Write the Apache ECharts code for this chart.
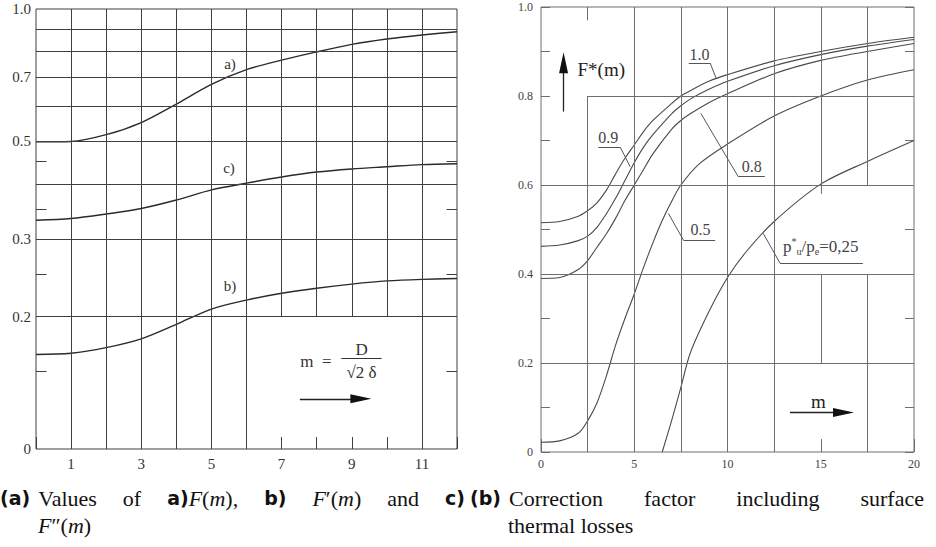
<!DOCTYPE html>
<html>
<head>
<meta charset="utf-8">
<script src="https://cdn.jsdelivr.net/npm/echarts@6/dist/echarts.min.js"></script>
<style>
  html, body { margin: 0; padding: 0; background: #fff; }
  #chart { width: 936px; height: 547px; }
</style>
</head>
<body>
<div id="chart"></div>
<script>
// ---- (a) left panel: F(m), F'(m), F''(m) on a log-scaled axis ----
const mA = [0, 1, 2, 3, 4, 5, 6, 7, 8, 9, 10, 11, 12];
const fA = [0.499, 0.500, 0.518, 0.552, 0.608, 0.674, 0.728, 0.765, 0.799, 0.831, 0.855, 0.873, 0.888];
const fB = [0.164, 0.165, 0.170, 0.178, 0.192, 0.208, 0.218, 0.226, 0.232, 0.237, 0.241, 0.243, 0.244];
const fC = [0.331, 0.334, 0.342, 0.352, 0.368, 0.388, 0.402, 0.415, 0.426, 0.433, 0.438, 0.443, 0.445];
const leftXLabels = [1, 3, 5, 7, 9, 11];
const leftYTicks = [0.1, 0.2, 0.3, 0.5, 0.7, 1.0];
const leftYLabels = ['0', '0.2', '0.3', '0.5', '0.7', '1.0'];

// ---- (b) right panel: F*(m) for p*u/pe = 1.0, 0.9, 0.8, 0.5, 0.25 ----
const mR = [0, 1, 2, 2.5, 3, 3.5, 4, 4.5, 5, 5.5, 6, 7, 7.5, 8, 9, 10, 12.5, 15, 17.5, 20];
const f10 = [0.515, 0.518, 0.530, 0.542, 0.560, 0.588, 0.625, 0.660, 0.690, 0.720, 0.745, 0.783, 0.800, 0.812, 0.833, 0.848, 0.879, 0.900, 0.918, 0.932];
const f09 = [0.462, 0.465, 0.475, 0.485, 0.505, 0.535, 0.570, 0.610, 0.650, 0.685, 0.713, 0.760, 0.778, 0.793, 0.815, 0.833, 0.868, 0.893, 0.912, 0.927];
const f08 = [0.390, 0.392, 0.410, 0.430, 0.460, 0.490, 0.525, 0.565, 0.600, 0.635, 0.670, 0.725, 0.745, 0.760, 0.785, 0.805, 0.850, 0.880, 0.900, 0.918];
const m05 = [0, 1, 2, 2.5, 3, 3.5, 4, 4.5, 5, 5.5, 6, 6.5, 7, 7.5, 8.5, 10, 12.5, 15, 17.5, 20];
const f05 = [0.022, 0.025, 0.042, 0.070, 0.110, 0.170, 0.240, 0.300, 0.355, 0.415, 0.470, 0.520, 0.563, 0.600, 0.648, 0.692, 0.755, 0.800, 0.836, 0.859];
const m025 = [6.5, 7, 7.5, 8, 9, 10, 11, 12.5, 15, 17.5, 20];
const f025 = [0, 0.070, 0.145, 0.222, 0.315, 0.392, 0.450, 0.518, 0.602, 0.653, 0.700];

// grid line positions (drawing aids, not data)
const leftGridH = [0.2, 0.3, 0.4, 0.5, 0.6, 0.7, 0.8, 0.9];
const leftGridV = [1, 2, 3, 4, 5, 6, 11];
const leftGridVUpper = [7, 8, 9, 10];
const leftEdgeTicks = [0.15, 0.25, 0.35, 0.45];
const rightGridH = [0.2, 0.4, 0.6];
const rightGridV = [5, 7.5, 10, 12.5];

const serif = "'Liberation Serif', 'Times New Roman', serif";
const gridL = '#3f3f3f';
const gridR = '#6e6e6e';

const zip = (xs, ys) => xs.map((x, i) => [x, ys[i]]);
const seg = (x1, y1, x2, y2, extra) => [Object.assign({ coord: [x1, y1] }, extra || {}), { coord: [x2, y2] }];
const txt = (x, y, text, size, extra) => ({
  coord: [x, y],
  label: Object.assign({ show: true, position: 'inside', formatter: text, fontFamily: serif, fontSize: size, color: '#333' }, extra || {})
});
// filled arrow head drawn as a marker centred on (x, y)
const head = (x, y, rotate) => ({
  coord: [x, y], symbol: 'triangle', symbolSize: [9, 21], symbolRotate: rotate,
  itemStyle: { color: '#111' }, label: { show: false }
});

const chart = echarts.init(document.getElementById('chart'), null, { renderer: 'svg' });

const lineBase = { type: 'line', symbol: 'none', smooth: 0.3, silent: true, z: 3 };
const arrowLine = { lineStyle: { color: '#222', width: 1.3 } };

// left grid lines + labels, hung on curve a)
const leftMarks = [];
leftGridH.forEach(v => leftMarks.push({ yAxis: v }));
leftGridV.forEach(v => leftMarks.push({ xAxis: v }));
leftGridVUpper.forEach(v => leftMarks.push(seg(v, 0.2, v, 1)));
leftEdgeTicks.forEach(v => { leftMarks.push(seg(0, v, 0.3, v)); leftMarks.push(seg(11.7, v, 12, v)); });
leftYTicks.forEach((v, i) => leftMarks.push({
  yAxis: v, lineStyle: { color: 'rgba(0,0,0,0)' },
  label: { show: true, position: 'start', distance: 5, formatter: leftYLabels[i], fontFamily: serif, fontSize: 15, color: '#333' }
}));
leftMarks.push(seg(8.70, 0.161, 9.85, 0.161, { lineStyle: { color: '#333', width: 1 } }));
leftMarks.push(seg(7.52, 0.130, 9.3, 0.130, arrowLine));

// right grid lines + leaders
const rightMarks = [];
rightGridH.forEach(v => rightMarks.push({ yAxis: v }));
rightGridV.forEach(v => rightMarks.push({ xAxis: v }));
rightMarks.push(seg(2.5, 0.8, 20, 0.8));
rightMarks.push(seg(2.5, 0, 2.5, 0.8));
rightMarks.push(seg(2.5, 0.97, 2.5, 1));
rightMarks.push(seg(15, 0.58, 15, 1));
rightMarks.push(seg(15, 0.2, 15, 0.4));
rightMarks.push(seg(17.5, 0.6, 17.5, 1));
rightMarks.push(seg(17.5, 0, 17.5, 0.4));
const lead = { lineStyle: { color: '#555', width: 1 } };
rightMarks.push(seg(7.92, 0.874, 9.07, 0.874, lead), seg(9.07, 0.874, 9.39, 0.840, lead));
rightMarks.push(seg(3.07, 0.685, 4.25, 0.685, lead), seg(4.25, 0.685, 4.78, 0.641, lead));
rightMarks.push(seg(10.57, 0.619, 12.0, 0.619, lead), seg(10.57, 0.619, 8.57, 0.761, lead));
rightMarks.push(seg(7.64, 0.476, 9.34, 0.476, lead), seg(7.64, 0.476, 6.83, 0.536, lead));
rightMarks.push(seg(12.82, 0.424, 17.26, 0.424, lead), seg(12.82, 0.424, 11.92, 0.491, lead));
rightMarks.push(seg(1.21, 0.765, 1.21, 0.87, arrowLine));
rightMarks.push(seg(13.35, 0.0887, 16.3, 0.0887, arrowLine));

const markPointBase = { silent: true, symbol: 'rect', symbolSize: 1, itemStyle: { color: 'rgba(0,0,0,0)' }, animation: false };

const capBase = { fontFamily: serif, fontWeight: 'normal', fontSize: 22, color: '#111', lineHeight: 26 };
const capRich = {
  b: { fontFamily: "'DejaVu Sans', sans-serif", fontWeight: 'bold', fontSize: 19, color: '#111', lineHeight: 26 },
  r: capBase,
  i: Object.assign({}, capBase, { fontStyle: 'italic' }),
  n: Object.assign({}, capBase, { width: 8 }),
  s: Object.assign({}, capBase, { width: 26 }),
  t: Object.assign({}, capBase, { width: 41 })
};
const capStyle = { rich: capRich, fontWeight: 'normal', fontFamily: serif, fontSize: 22, color: '#111' };

const option = {
  animation: false,
  backgroundColor: '#fff',
  title: [
    { left: 0, top: 485, padding: 0, text: '{b|(a)}{n| }{r|Values}{s| }{r|of}{s| }{b|a)}{i|F}{r|(}{i|m}{r|),}{s| }{b|b)}{s| }{i|F}{r|′(}{i|m}{r|)}{s| }{r|and}{s| }{b|c)}', textStyle: capStyle },
    { left: 38, top: 512, padding: 0, text: '{i|F}{r|″(}{i|m}{r|)}', textStyle: capStyle },
    { left: 470, top: 485, padding: 0, text: '{b|(b)}{n| }{r|Correction}{t| }{r|factor}{t| }{r|including}{t| }{r|surface}', textStyle: capStyle },
    { left: 508, top: 512, padding: 0, text: '{r|thermal losses}', textStyle: capStyle }
  ],
  grid: [
    { left: 36, top: 9, width: 421, height: 440, show: true, borderColor: gridL, borderWidth: 1, backgroundColor: 'rgba(0,0,0,0)' },
    { left: 541, top: 7, width: 373, height: 445, show: true, borderColor: gridR, borderWidth: 1, backgroundColor: 'rgba(0,0,0,0)' }
  ],
  xAxis: [
    {
      gridIndex: 0, type: 'value', min: 0, max: 12, interval: 1,
      axisLine: { show: false }, splitLine: { show: false },
      axisTick: { show: true, inside: true, length: 12, lineStyle: { color: gridL } },
      axisLabel: { margin: 7, fontFamily: serif, fontSize: 15, color: '#333', formatter: v => leftXLabels.includes(v) ? String(v) : '' }
    },
    {
      gridIndex: 1, type: 'value', min: 0, max: 20, interval: 5,
      axisLine: { show: false }, splitLine: { show: false },
      axisTick: { show: true, inside: true, length: 13, lineStyle: { color: gridR } },
      axisLabel: { margin: 6, fontFamily: serif, fontSize: 12, color: '#444' }
    }
  ],
  yAxis: [
    {
      gridIndex: 0, type: 'log', logBase: 10, min: 0.1, max: 1,
      axisLine: { show: false }, axisTick: { show: false }, axisLabel: { show: false }, splitLine: { show: false }
    },
    {
      gridIndex: 1, type: 'value', min: 0, max: 1, interval: 0.2,
      axisLine: { show: false }, splitLine: { show: false },
      axisTick: { show: true, inside: true, length: 9, lineStyle: { color: gridR } },
      minorTick: { show: true, splitNumber: 2, length: 9, lineStyle: { color: gridR } },
      axisLabel: { margin: 8, fontFamily: serif, fontSize: 12, color: '#444', formatter: v => v === 0 ? '0' : v.toFixed(1) }
    },
    {
      gridIndex: 1, type: 'value', min: 0, max: 1, interval: 0.2, position: 'right',
      axisLine: { show: false }, splitLine: { show: false }, axisLabel: { show: false },
      axisTick: { show: true, inside: true, length: 9, lineStyle: { color: gridR } },
      minorTick: { show: true, splitNumber: 2, length: 9, lineStyle: { color: gridR } }
    }
  ],
  series: [
    Object.assign({}, lineBase, {
      name: 'a)', xAxisIndex: 0, yAxisIndex: 0, data: zip(mA, fA),
      lineStyle: { color: '#2a2a2a', width: 1.4 },
      markLine: { silent: true, animation: false, symbol: ['none', 'none'], label: { show: false }, lineStyle: { color: gridL, width: 1, type: 'solid' }, data: leftMarks },
      markPoint: Object.assign({}, markPointBase, {
        data: [
          txt(5.53, 0.75, 'a)', 15),
          txt(5.50, 0.435, 'c)', 15),
          txt(5.53, 0.235, 'b)', 15),
          txt(7.98, 0.158, 'm  =', 17),
          txt(9.28, 0.168, 'D', 17),
          txt(9.28, 0.149, '√2 δ', 17),
          head(9.26, 0.130, -90)
        ]
      })
    }),
    Object.assign({}, lineBase, { name: 'b)', xAxisIndex: 0, yAxisIndex: 0, data: zip(mA, fB), lineStyle: { color: '#2a2a2a', width: 1.4 } }),
    Object.assign({}, lineBase, { name: 'c)', xAxisIndex: 0, yAxisIndex: 0, data: zip(mA, fC), lineStyle: { color: '#2a2a2a', width: 1.4 } }),

    Object.assign({}, lineBase, {
      name: '1.0', xAxisIndex: 1, yAxisIndex: 1, data: zip(mR, f10),
      lineStyle: { color: '#4a4a4a', width: 1.1 },
      markLine: { silent: true, animation: false, symbol: ['none', 'none'], label: { show: false }, lineStyle: { color: gridR, width: 1, type: 'solid' }, data: rightMarks },
      markPoint: Object.assign({}, markPointBase, {
        data: [
          txt(8.50, 0.893, '1.0', 16, { color: '#444' }),
          txt(3.60, 0.707, '0.9', 16, { color: '#444' }),
          txt(11.30, 0.642, '0.8', 16, { color: '#444' }),
          txt(8.55, 0.499, '0.5', 16, { color: '#444' }),
          {
            coord: [15.0, 0.462],
            label: {
              show: true, position: 'inside', color: '#444', fontFamily: serif, fontSize: 17,
              formatter: '{n|p}{sup|*}{sub|u}{n|/p}{sub|e}{n|=0,25}',
              rich: {
                n: { fontFamily: serif, fontSize: 17, color: '#444', lineHeight: 20 },
                sup: { fontFamily: serif, fontSize: 10, color: '#444', verticalAlign: 'top', lineHeight: 20 },
                sub: { fontFamily: serif, fontSize: 10, color: '#444', verticalAlign: 'bottom', lineHeight: 20 }
              }
            }
          },
          txt(3.23, 0.859, 'F*(m)', 19, { color: '#222' }),
          txt(14.87, 0.1125, 'm', 19, { color: '#222' }),
          head(1.21, 0.875, 0),
          head(16.22, 0.0887, -90)
        ]
      })
    }),
    Object.assign({}, lineBase, { name: '0.9', xAxisIndex: 1, yAxisIndex: 1, data: zip(mR, f09), lineStyle: { color: '#4a4a4a', width: 1.1 } }),
    Object.assign({}, lineBase, { name: '0.8', xAxisIndex: 1, yAxisIndex: 1, data: zip(mR, f08), lineStyle: { color: '#4a4a4a', width: 1.1 } }),
    Object.assign({}, lineBase, { name: '0.5', xAxisIndex: 1, yAxisIndex: 1, data: zip(m05, f05), lineStyle: { color: '#4a4a4a', width: 1.1 } }),
    Object.assign({}, lineBase, { name: '0.25', xAxisIndex: 1, yAxisIndex: 1, data: zip(m025, f025), lineStyle: { color: '#4a4a4a', width: 1.1 } })
  ]
};

chart.setOption(option);
</script>
</body>
</html>
